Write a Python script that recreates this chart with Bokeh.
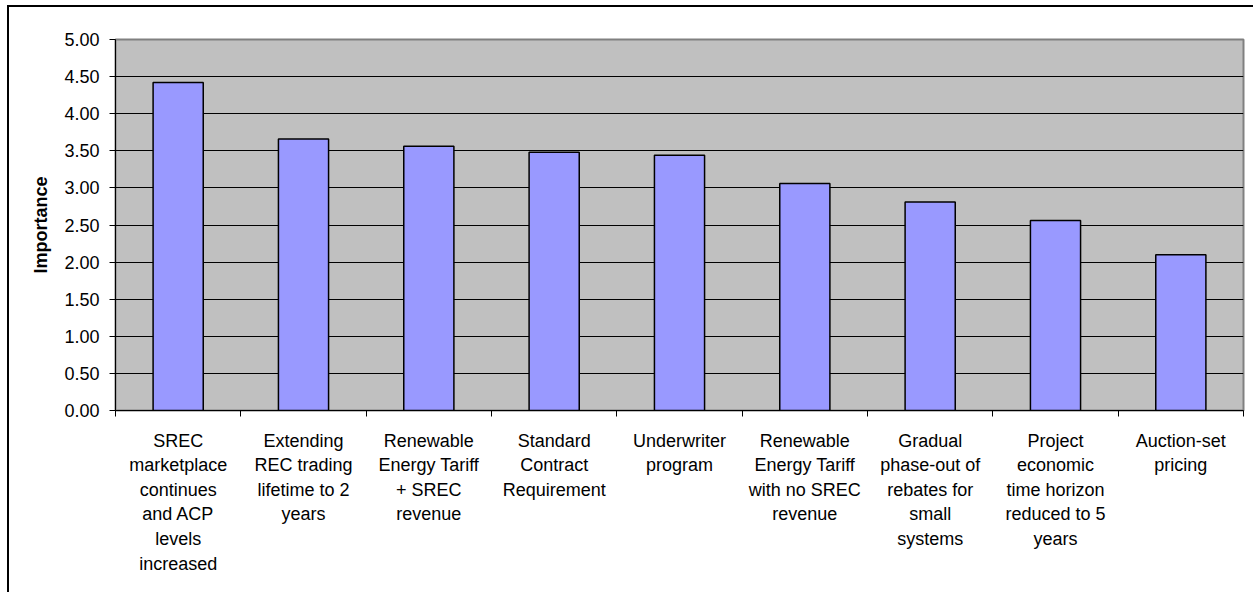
from bokeh.plotting import figure
from bokeh.models import ColumnDataSource, Range1d, FixedTicker, NumeralTickFormatter
from bokeh.embed import file_html
from bokeh.resources import INLINE

# Policy options and their mean importance scores
categories = [
    "SREC\nmarketplace\ncontinues\nand ACP\nlevels\nincreased",
    "Extending\nREC trading\nlifetime to 2\nyears",
    "Renewable\nEnergy Tariff\n+ SREC\nrevenue",
    "Standard\nContract\nRequirement",
    "Underwriter\nprogram",
    "Renewable\nEnergy Tariff\nwith no SREC\nrevenue",
    "Gradual\nphase-out of\nrebates for\nsmall\nsystems",
    "Project\neconomic\ntime horizon\nreduced to 5\nyears",
    "Auction-set\npricing",
]
importance = [4.42, 3.66, 3.56, 3.48, 3.44, 3.06, 2.81, 2.56, 2.10]
y_ticks = [0.0, 0.5, 1.0, 1.5, 2.0, 2.5, 3.0, 3.5, 4.0, 4.5, 5.0]

FONT = "Liberation Sans"
# canvas sits inside a black left/top chart border
OFF_X, OFF_Y = 9, 7
W, H = 1255 - OFF_X, 594 - OFF_Y
FRAME_L, FRAME_R, FRAME_T, FRAME_B = 115 - OFF_X, 1243 - OFF_X, 39 - OFF_Y, 410 - OFF_Y

n = len(categories)
centers = [i + 0.5 for i in range(n)]
boundaries = list(range(n + 1))
source = ColumnDataSource(data=dict(x=centers, top=importance))

p = figure(width=W, height=H, output_backend="svg", toolbar_location=None,
           x_range=Range1d(0, n), y_range=Range1d(0, 5),
           min_border_left=FRAME_L, min_border_right=W - FRAME_R,
           min_border_top=FRAME_T, min_border_bottom=H - FRAME_B)
p.styles = {"margin-left": "7px", "margin-top": "5px",
            "border-left": "2px solid black", "border-top": "2px solid black"}

p.background_fill_color = "#C0C0C0"
p.border_fill_color = "white"
p.outline_line_color = "#808080"
p.outline_line_width = 2

p.vbar(x="x", top="top", width=0.4, bottom=0, source=source,
       fill_color="#9999FF", line_color="black", line_width=1.5)

# y axis
yax = p.yaxis[0]
yax.ticker = FixedTicker(ticks=y_ticks)
yax.formatter = NumeralTickFormatter(format="0.00")
yax.major_tick_out = 6
yax.major_tick_in = 0
yax.minor_tick_line_color = None
yax.axis_line_color = "black"
yax.major_tick_line_color = "black"
yax.major_label_standoff = 10
yax.major_label_text_font = FONT
yax.major_label_text_font_size = "18px"
yax.major_label_text_color = "black"
yax.axis_label = "Importance"
yax.axis_label_text_font = FONT
yax.axis_label_text_font_size = "18px"
yax.axis_label_text_font_style = "bold"
yax.axis_label_text_color = "black"
yax.axis_label_standoff = 10

# x axis: labels at bar centres, tick marks at category boundaries
xax = p.xaxis[0]
xax.ticker = FixedTicker(ticks=centers, minor_ticks=boundaries)
xax.major_label_overrides = {c: lab for c, lab in zip(centers, categories)}
xax.major_tick_out = 0
xax.major_tick_in = 0
xax.major_tick_line_color = None
xax.minor_tick_out = 6
xax.minor_tick_in = 0
xax.minor_tick_line_color = "black"
xax.axis_line_color = "black"
xax.major_label_standoff = 14
xax.major_label_text_font = FONT
xax.major_label_text_font_size = "18px"
xax.major_label_text_color = "black"
xax.major_label_text_line_height = 1.23

# grid lines
p.xgrid.grid_line_color = None
p.ygrid.ticker = FixedTicker(ticks=[t for t in y_ticks if 0 < t < 5])
p.ygrid.grid_line_color = "black"
p.ygrid.grid_line_width = 1

open("out.html", "w").write(file_html(p, INLINE))
